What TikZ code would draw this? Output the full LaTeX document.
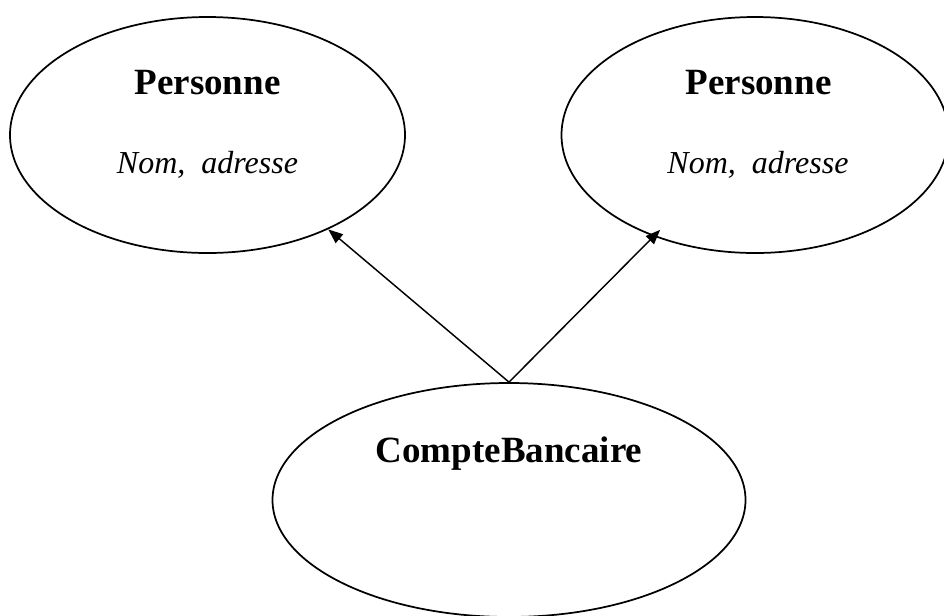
\documentclass[tikz,border=0pt]{standalone}
\usepackage{fontspec}
\setmainfont{Liberation Serif}
\usetikzlibrary{shapes.geometric,arrows.meta}
\begin{document}
\begin{tikzpicture}[x=0.75pt,y=-0.75pt,
  oval/.style={draw, ellipse, line width=1.3pt, inner sep=0pt},
  title/.style={font=\fontsize{27.75}{30}\selectfont\bfseries, anchor=base, inner sep=0pt},
  attr/.style={font=\fontsize{24}{28}\selectfont\itshape, anchor=base, inner sep=0pt},
  link/.style={line width=1.1pt, -{Triangle[length=11pt,width=8.5pt]}}]
\useasboundingbox (0,0) rectangle (944,615);
\clip (0,0) rectangle (944,615);
\fill[white] (0,0) rectangle (944,615);
\node[oval, minimum width=395*0.75pt, minimum height=236*0.75pt] (p1) at (207.5,135) {};
\node[oval, minimum width=387*0.75pt, minimum height=236*0.75pt] (p2) at (755,135) {};
\node[oval, minimum width=473*0.75pt, minimum height=234*0.75pt] (cb) at (509,500) {};
\node[title] (t1) at (207.5,94) {Personne};
\node[attr] (a1) at (207.5,173) {Nom,\ \ adresse};
\node[title] (t2) at (758.5,94) {Personne};
\node[attr] (a2) at (758,173) {Nom,\ \ adresse};
\node[title] (t3) at (509,462) {CompteBancaire};
\draw[link] (cb.north) -- (p1.-38);
\draw[link, shorten >=-7pt] (cb.north) -- (p2.-135);
\end{tikzpicture}
\end{document}
